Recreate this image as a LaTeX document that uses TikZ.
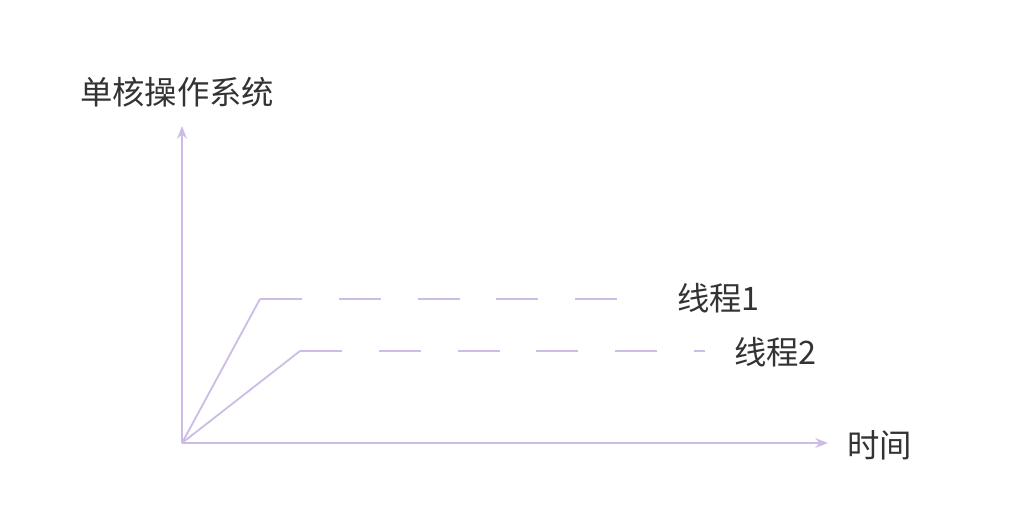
\documentclass[tikz,border=0pt]{standalone}
\usepackage{fontspec}
\setmainfont{Noto Sans CJK SC}
\usetikzlibrary{arrows.meta}
\definecolor{axispurple}{HTML}{CDBDE6}
\definecolor{labelgray}{HTML}{333333}
\begin{document}
\begin{tikzpicture}[x=0.025cm,y=-0.025cm,
                    axis/.style = {draw=axispurple, line width=1.3pt,
                                -{Stealth[length=9pt,width=7pt]}},
                    thread/.style = {draw=axispurple, line width=1.3pt},
                    threaddash/.style = {thread, dash pattern=on 30pt off 26pt},
                    lbl/.style = {text=labelgray, font=\fontsize{23}{26}\selectfont, inner sep=0pt}]
    \useasboundingbox (0,0) rectangle (1032,513);
    % axes
    \coordinate (O) at (182,443);
    \coordinate (ytop) at (182,126);
    \coordinate (xend) at (828,443);
    \draw[axis] (O) -- (ytop);
    \draw[axis] (O) -- (xend);
    % thread lines
    \coordinate (k1) at (260,299);
    \coordinate (e1) at (645,299);
    \coordinate (k2) at (300,351);
    \coordinate (e2) at (705,351);
    \draw[thread] (O) -- (k1);
    \draw[threaddash] (k1) -- (e1);
    \draw[thread] (O) -- (k2);
    \draw[threaddash] (k2) -- (e2);
    % labels
    \node[lbl,anchor=west] (ylabel) at (80,92) {单核操作系统};
    \node[lbl,anchor=west] (t1) at (677,298) {线程1};
    \node[lbl,anchor=west] (t2) at (734,352) {线程2};
    \node[lbl,anchor=west] (xlabel) at (847,445) {时间};
\end{tikzpicture}
\end{document}
